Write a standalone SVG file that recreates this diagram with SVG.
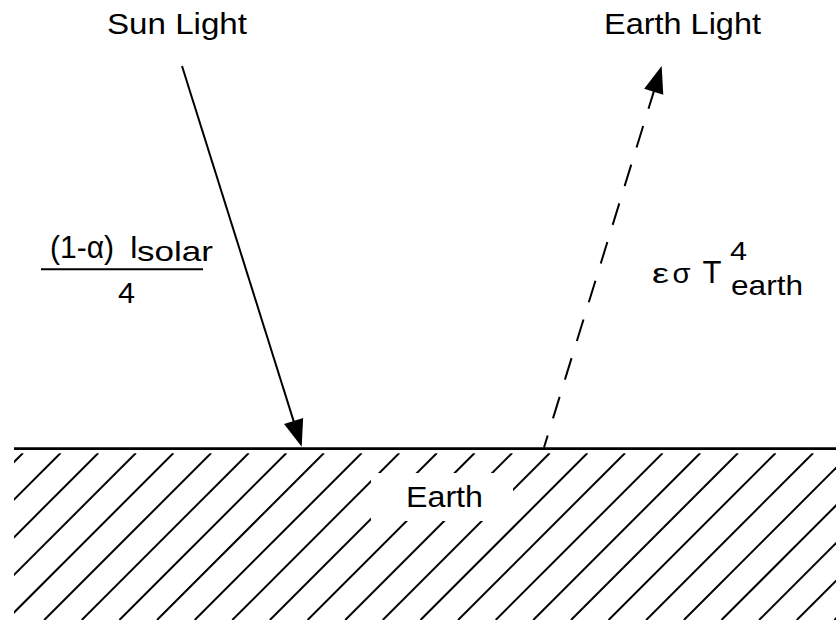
<svg xmlns="http://www.w3.org/2000/svg" width="836" height="620" viewBox="0 0 836 620">
<style>
text{font-family:"Liberation Sans",Arial,sans-serif;fill:#000}
.hatch line{stroke:#000;stroke-width:2}
.ln{stroke:#000;stroke-width:2;fill:none}
</style>
<defs>
<marker id="ah" markerUnits="userSpaceOnUse" viewBox="-3 -11 30 22" refX="0" refY="0" markerWidth="30" markerHeight="22" orient="auto">
<path d="M-2,-10 L25,0 L-2,10 z" fill="#000"/>
</marker>
<clipPath id="gclip"><rect x="14" y="453.3" width="822" height="167"/></clipPath>
</defs>
<rect width="836" height="620" fill="#fff"/>
<g id="earth">
<g class="hatch" clip-path="url(#gclip)">
<line x1="23" y1="453" x2="-144" y2="620"/>
<line x1="60.6" y1="453" x2="-106.4" y2="620"/>
<line x1="98.3" y1="453" x2="-68.7" y2="620"/>
<line x1="135.9" y1="453" x2="-31.1" y2="620"/>
<line x1="173.5" y1="453" x2="6.5" y2="620"/>
<line x1="211.2" y1="453" x2="44.2" y2="620"/>
<line x1="248.8" y1="453" x2="81.8" y2="620"/>
<line x1="286.4" y1="453" x2="119.4" y2="620"/>
<line x1="324" y1="453" x2="157" y2="620"/>
<line x1="361.7" y1="453" x2="194.7" y2="620"/>
<line x1="399.3" y1="453" x2="232.3" y2="620"/>
<line x1="436.9" y1="453" x2="269.9" y2="620"/>
<line x1="474.6" y1="453" x2="307.6" y2="620"/>
<line x1="512.2" y1="453" x2="345.2" y2="620"/>
<line x1="549.8" y1="453" x2="382.8" y2="620"/>
<line x1="587.5" y1="453" x2="420.5" y2="620"/>
<line x1="625.1" y1="453" x2="458.1" y2="620"/>
<line x1="662.7" y1="453" x2="495.7" y2="620"/>
<line x1="700.3" y1="453" x2="533.3" y2="620"/>
<line x1="738" y1="453" x2="571" y2="620"/>
<line x1="775.6" y1="453" x2="608.6" y2="620"/>
<line x1="813.2" y1="453" x2="646.2" y2="620"/>
<line x1="850.9" y1="453" x2="683.9" y2="620"/>
<line x1="888.5" y1="453" x2="721.5" y2="620"/>
<line x1="926.1" y1="453" x2="759.1" y2="620"/>
<line x1="963.8" y1="453" x2="796.8" y2="620"/>
<line x1="1001.4" y1="453" x2="834.4" y2="620"/>
</g>
<line class="ln" x1="14" y1="448.7" x2="836" y2="448.7" style="stroke-width:2.7"/>
<rect x="371" y="473" width="142" height="48" fill="#fff"/>
<text x="406" y="507" font-size="30" textLength="77" lengthAdjust="spacingAndGlyphs">Earth</text>
</g>
<g id="sun-light">
<text x="107" y="33.5" font-size="29.5" textLength="140" lengthAdjust="spacingAndGlyphs">Sun Light</text>
</g>
<g id="earth-light">
<text x="604" y="34" font-size="29.5" textLength="157" lengthAdjust="spacingAndGlyphs">Earth Light</text>
</g>
<g id="solar-flux">
<text x="50" y="257.5" font-size="31" textLength="64" lengthAdjust="spacingAndGlyphs">(1-α)</text>
<text x="129.5" y="257.5" font-size="31">I</text>
<text x="137" y="261" font-size="28" textLength="76" lengthAdjust="spacingAndGlyphs">solar</text>
<line class="ln" x1="41" y1="269.3" x2="203" y2="269.3"/>
<text x="118" y="303" font-size="29" textLength="17" lengthAdjust="spacingAndGlyphs">4</text>
</g>
<g id="earth-flux">
<text x="652" y="283" font-size="28" textLength="17" lengthAdjust="spacingAndGlyphs">ε</text>
<text x="672.5" y="283" font-size="28" textLength="18" lengthAdjust="spacingAndGlyphs">σ</text>
<text x="702.5" y="283" font-size="31" textLength="19" lengthAdjust="spacingAndGlyphs">T</text>
<text x="730" y="259.5" font-size="25" textLength="17" lengthAdjust="spacingAndGlyphs">4</text>
<text x="731" y="295" font-size="28" textLength="72" lengthAdjust="spacingAndGlyphs">earth</text>
</g>
<g id="connectors">
<line class="ln" x1="182" y1="66" x2="294.2" y2="422.85" marker-end="url(#ah)"/>
<line class="ln" x1="544" y1="447.5" x2="654.3" y2="89.9" stroke-dasharray="22.5 18" stroke-dashoffset="10" marker-end="url(#ah)"/>
</g>
</svg>
